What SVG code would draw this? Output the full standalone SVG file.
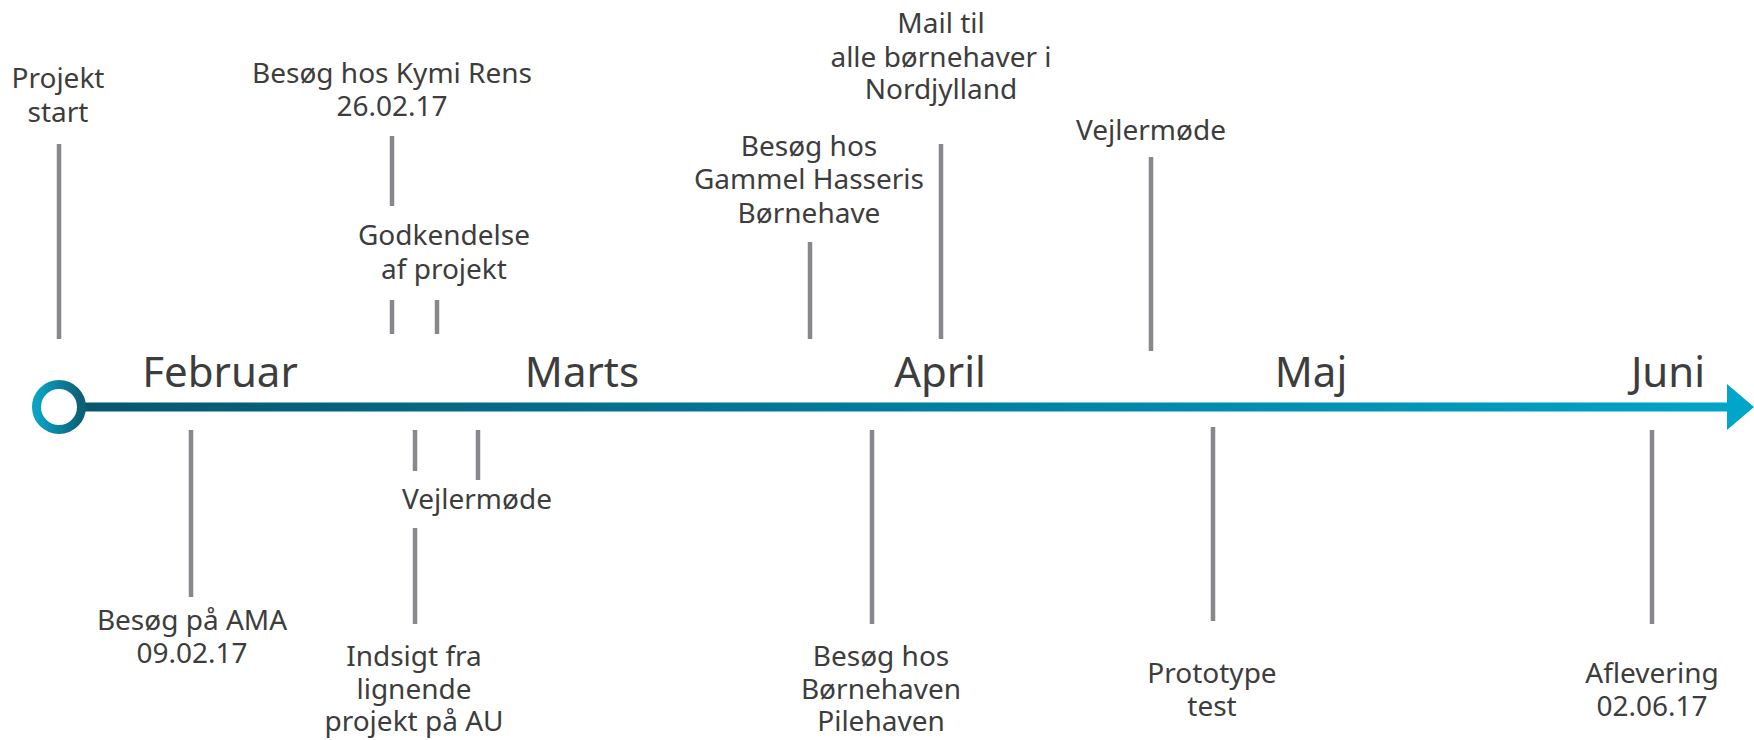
<svg xmlns="http://www.w3.org/2000/svg" width="1754" height="740" viewBox="0 0 1754 740">
  <defs>
    <linearGradient id="axisGrad" gradientUnits="userSpaceOnUse" x1="60" y1="0" x2="1754" y2="0">
      <stop offset="0" stop-color="#08566b"/>
      <stop offset="0.45" stop-color="#03799a"/>
      <stop offset="1" stop-color="#00a6c9"/>
    </linearGradient>
    <linearGradient id="ringGrad" x1="0" y1="0" x2="1" y2="0">
      <stop offset="0" stop-color="#0aa3c4"/>
      <stop offset="1" stop-color="#0c5f74"/>
    </linearGradient>
    <style>
      .tick { stroke: #88888c; stroke-width: 4.5; fill: none; }
      .lbl { font-family: "Noto Sans", "Open Sans", sans-serif; font-size: 28px; fill: #3d3d3d; text-anchor: middle; }
      .month { font-family: "Noto Sans", "Open Sans", sans-serif; font-size: 42px; fill: #3d3d3d; text-anchor: middle; }
    </style>
  </defs>
  <rect width="1754" height="740" fill="#ffffff"/>

  <!-- timeline axis with arrow -->
  <g id="axis">
    <line x1="70" y1="407" x2="1730" y2="407" stroke="url(#axisGrad)" stroke-width="9"/>
    <polygon points="1727,384 1754,407 1727,430" fill="#00a6c9"/>
    <circle cx="59" cy="407" r="22.5" fill="#ffffff" stroke="url(#ringGrad)" stroke-width="9"/>
  </g>

  <!-- month labels -->
  <g id="months">
    <text class="month" x="220" y="387">Februar</text>
    <text class="month" x="582" y="387">Marts</text>
    <text class="month" x="940" y="387">April</text>
    <text class="month" x="1311" y="387">Maj</text>
    <text class="month" x="1668" y="387">Juni</text>
  </g>

  <!-- connectors: tick lines from the axis to each event -->
  <g id="connectors">
    <line class="tick" x1="59" y1="144" x2="59" y2="339"/>
    <line class="tick" x1="392" y1="136" x2="392" y2="206"/>
    <line class="tick" x1="392" y1="300" x2="392" y2="334"/>
    <line class="tick" x1="437" y1="300" x2="437" y2="334"/>
    <line class="tick" x1="810" y1="242" x2="810" y2="339"/>
    <line class="tick" x1="941" y1="144" x2="941" y2="339"/>
    <line class="tick" x1="1151" y1="157" x2="1151" y2="351"/>
    <line class="tick" x1="191" y1="430" x2="191" y2="597"/>
    <line class="tick" x1="415" y1="430" x2="415" y2="471"/>
    <line class="tick" x1="478" y1="430" x2="478" y2="480"/>
    <line class="tick" x1="415" y1="528" x2="415" y2="624"/>
    <line class="tick" x1="872" y1="430" x2="872" y2="624"/>
    <line class="tick" x1="1213" y1="427" x2="1213" y2="621"/>
    <line class="tick" x1="1652" y1="430" x2="1652" y2="624"/>
  </g>

  <!-- events above the axis -->
  <g id="ev-projektstart">
    <text class="lbl" x="58" y="88">Projekt<tspan x="58" dy="34">start</tspan></text>
  </g>
  <g id="ev-kymi">
    <text class="lbl" x="392" y="83">Besøg hos Kymi Rens<tspan x="392" dy="33">26.02.17</tspan></text>
  </g>
  <g id="ev-godkendelse">
    <text class="lbl" x="444" y="245">Godkendelse<tspan x="444" dy="34">af projekt</tspan></text>
  </g>
  <g id="ev-hasseris">
    <text class="lbl" x="809" y="156">Besøg hos<tspan x="809" dy="33">Gammel Hasseris</tspan><tspan x="809" dy="34">Børnehave</tspan></text>
  </g>
  <g id="ev-mail">
    <text class="lbl" x="941" y="33">Mail til<tspan x="941" dy="34">alle børnehaver i</tspan><tspan x="941" dy="32">Nordjylland</tspan></text>
  </g>
  <g id="ev-vejler2">
    <text class="lbl" x="1151" y="140">Vejlermøde</text>
  </g>

  <!-- events below the axis -->
  <g id="ev-ama">
    <text class="lbl" x="192" y="630">Besøg på AMA<tspan x="192" dy="33">09.02.17</tspan></text>
  </g>
  <g id="ev-vejler1">
    <text class="lbl" x="477" y="509">Vejlermøde</text>
  </g>
  <g id="ev-indsigt">
    <text class="lbl" x="414" y="666">Indsigt fra<tspan x="414" dy="33">lignende</tspan><tspan x="414" dy="32">projekt på AU</tspan></text>
  </g>
  <g id="ev-pilehaven">
    <text class="lbl" x="881" y="666">Besøg hos<tspan x="881" dy="33">Børnehaven</tspan><tspan x="881" dy="32">Pilehaven</tspan></text>
  </g>
  <g id="ev-prototype">
    <text class="lbl" x="1212" y="683">Prototype<tspan x="1212" dy="33">test</tspan></text>
  </g>
  <g id="ev-aflevering">
    <text class="lbl" x="1652" y="683">Aflevering<tspan x="1652" dy="33">02.06.17</tspan></text>
  </g>
</svg>
